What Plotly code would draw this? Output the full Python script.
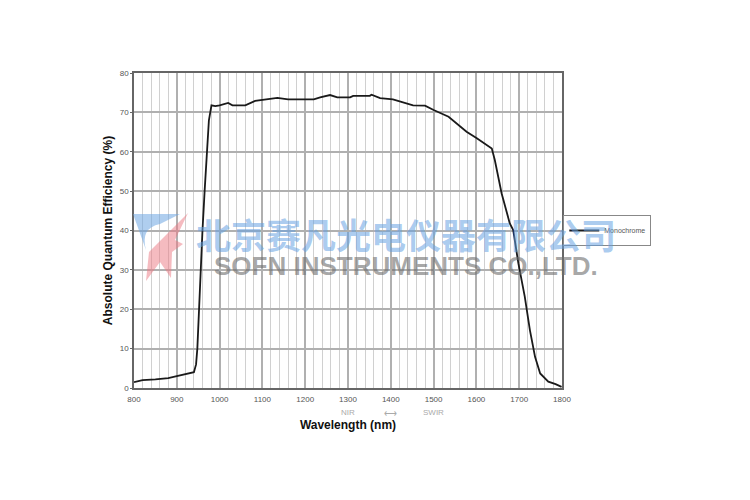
import plotly.graph_objects as go

wavelength = [800, 820, 850, 880, 900, 920, 940, 945, 948, 952, 956, 960, 965, 970, 975, 981,
              990, 1000, 1010, 1020, 1030, 1050, 1060, 1083, 1100, 1120, 1135, 1160, 1200,
              1220, 1235, 1258, 1275, 1305, 1312, 1351, 1355, 1375, 1405, 1425, 1452, 1480,
              1500, 1535, 1554, 1577, 1601, 1636, 1643, 1659, 1678, 1686, 1698, 1713, 1725,
              1737, 1749, 1768, 1785, 1799]
qe = [1.5, 2.0, 2.2, 2.5, 3.0, 3.5, 4.0, 6.0, 10.0, 20.0, 32.0, 40.0, 50.0, 60.0, 68.0, 71.8,
      71.6, 71.8, 72.1, 72.4, 71.8, 71.8, 71.8, 72.9, 73.2, 73.4, 73.7, 73.3, 73.3,
      73.3, 73.8, 74.4, 73.8, 73.8, 74.2, 74.2, 74.5, 73.6, 73.3, 72.6, 71.8, 71.7,
      70.6, 68.9, 67.2, 65.1, 63.4, 60.8, 57.9, 49.4, 41.8, 40.1, 31.7, 23.2, 14.7,
      7.9, 3.7, 1.6, 1.0, 0.3]

x_ticks = [800, 900, 1000, 1100, 1200, 1300, 1400, 1500, 1600, 1700, 1800]
y_ticks = [0, 10, 20, 30, 40, 50, 60, 70, 80]

FONT = "Liberation Sans, Arial, sans-serif"

fig = go.Figure()
fig.add_trace(go.Scatter(x=wavelength, y=qe, mode="lines", name="Monochrome",
                         line=dict(color="#1a1a1a", width=1.8)))

fig.update_layout(
    width=750, height=500,
    margin=dict(l=126, r=196, t=65, b=120),
    paper_bgcolor="white", plot_bgcolor="white",
    showlegend=True,
    legend=dict(x=1.003, y=0.5, xanchor="left", yanchor="middle",
                bordercolor="#888888", borderwidth=1, bgcolor="rgba(255,255,255,0)",
                font=dict(family=FONT, size=7, color="#555555"),
                itemwidth=30, tracegroupgap=0),
    font=dict(family=FONT),
)
fig.update_xaxes(range=[800, 1800], tickvals=x_ticks, ticktext=[str(v) for v in x_ticks],
                 tickfont=dict(family=FONT, size=8, color="#555555"),
                 showgrid=True, gridcolor="#b0b0b0", gridwidth=1.5,
                 minor=dict(dtick=20, showgrid=True, gridcolor="#d0d0d0", gridwidth=1),
                 showline=True, linecolor="#666666", linewidth=1.5, mirror=True,
                 ticks="", zeroline=False, ticklabelstandoff=3,
                 title=dict(text="<b>Wavelength (nm)</b>", font=dict(family=FONT, size=12, color="#111111"),
                            standoff=17))
fig.update_yaxes(range=[0, 80], tickvals=y_ticks, ticktext=[str(v) for v in y_ticks],
                 tickfont=dict(family=FONT, size=8, color="#555555"),
                 showgrid=True, gridcolor="#b0b0b0", gridwidth=1.5,
                 showline=True, linecolor="#666666", linewidth=1.5, mirror=True,
                 ticks="outside", ticklen=2, tickcolor="#666666", zeroline=False,
                 title=dict(text="<b>Absolute Quantum Efficiency (%)</b>",
                            font=dict(family=FONT, size=12, color="#111111"), standoff=5))

# band labels under the axis
band_y = -0.056
fig.add_annotation(x=1300, y=band_y, xref="x", yref="paper", yanchor="top", text="NIR",
                   showarrow=False, font=dict(family=FONT, size=8, color="#aaaaaa"))
fig.add_annotation(x=1400, y=band_y, xref="x", yref="paper", yanchor="top", text="\u27f7",
                   showarrow=False, font=dict(family=FONT, size=9, color="#aaaaaa"))
fig.add_annotation(x=1500, y=band_y, xref="x", yref="paper", yanchor="top", text="SWIR",
                   showarrow=False, font=dict(family=FONT, size=8, color="#aaaaaa"))

# watermark
def px(x):
    return (x - 134) / 428.0

def py(y):
    return (388 - y) / 315.0

blue_path = "M {} {} L {} {} L {} {} Q {} {} {} {} Z".format(
    px(133), py(214), px(180), py(214), px(160), py(224), px(140), py(228), px(146), py(250))
pink_path = "M {} {} L {} {} L {} {} L {} {} L {} {} L {} {} L {} {} L {} {} L {} {} Z".format(
    px(188), py(213), px(175), py(240), px(183), py(244), px(172), py(252),
    px(171), py(278), px(160), py(262), px(146), py(281), px(149), py(252), px(165), py(236))
fig.add_shape(type="path", path=blue_path, xref="paper", yref="paper",
              fillcolor="rgba(110,165,225,0.55)", line=dict(width=0), layer="above")
fig.add_shape(type="path", path=pink_path, xref="paper", yref="paper",
              fillcolor="rgba(235,120,130,0.5)", line=dict(width=0), layer="above")

fig.add_annotation(x=px(406), y=py(233), xref="paper", yref="paper",
                   text="<b>北京赛凡光电仪器有限公司</b>", showarrow=False,
                   font=dict(family="Noto Sans CJK SC", size=35, color="rgba(100,160,225,0.55)"))
fig.add_annotation(x=px(406), y=py(266), xref="paper", yref="paper",
                   text="<b>SOFN INSTRUMENTS CO.,LTD.</b>", showarrow=False,
                   font=dict(family=FONT, size=26, color="rgba(110,110,110,0.6)"))

fig.write_html("out.html")
